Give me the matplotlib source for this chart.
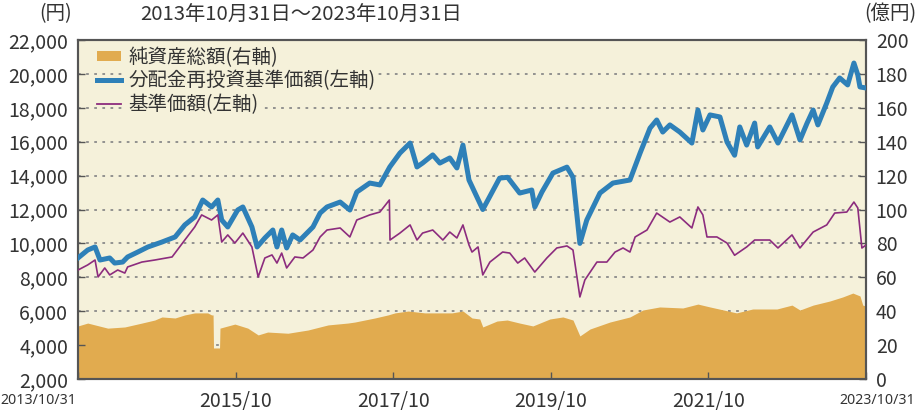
import matplotlib
matplotlib.use('Agg')
import matplotlib.pyplot as plt
import matplotlib.transforms as mtransforms
from matplotlib.patches import Patch
from matplotlib.lines import Line2D
from matplotlib.ticker import FuncFormatter
import pandas as pd

FONTS = ['Noto Sans CJK JP', 'DejaVu Sans']
plt.rcParams['font.family'] = FONTS

# ---------------- data ----------------
reinvest_dates = ['2013-10-31','2013-12-15','2014-01-18','2014-02-10','2014-03-27','2014-04-19','2014-05-26','2014-06-18','2014-08-04','2014-09-20',
    '2014-11-24','2015-01-24','2015-03-10','2015-04-25','2015-06-01','2015-07-12','2015-08-10','2015-08-28','2015-09-25','2015-11-10',
    '2015-12-04','2016-01-15','2016-02-08','2016-03-15','2016-04-21','2016-05-10','2016-06-01','2016-06-24','2016-07-22','2016-08-25',
    '2016-10-24','2016-11-26','2016-12-28','2017-02-27','2017-04-13','2017-05-15','2017-07-14','2017-08-30','2017-10-15','2017-12-01',
    '2018-01-17','2018-02-18','2018-03-16','2018-05-02','2018-06-04','2018-07-20','2018-08-22','2018-09-19','2018-10-17','2018-12-20',
    '2019-03-08','2019-04-14','2019-06-09','2019-08-04','2019-08-18','2019-09-20','2019-11-10','2020-01-14','2020-02-11','2020-03-14',
    '2020-04-15','2020-06-15','2020-08-14','2020-11-01','2020-12-18','2021-02-02','2021-03-05','2021-04-02','2021-05-05','2021-06-20',
    '2021-08-15','2021-09-12','2021-10-05','2021-11-07','2021-12-23','2022-01-25','2022-03-01','2022-03-25','2022-04-26','2022-06-02',
    '2022-06-16','2022-08-11','2022-09-18','2022-11-22','2022-12-29','2023-01-31','2023-02-28','2023-03-22','2023-05-02','2023-05-30',
    '2023-07-01','2023-08-07','2023-09-05','2023-09-23','2023-10-03','2023-10-31']
reinvest_nav = [9140, 9610, 9790, 9020, 9140, 8840, 8900, 9200, 9490, 9790,
    10080, 10380, 11090, 11560, 12560, 12150, 12560, 11380, 10970, 11970,
    12150, 10970, 9790, 10320, 10790, 9790, 10790, 9730, 10500, 10200,
    10970, 11790, 12150, 12440, 11970, 13030, 13560, 13450, 14510, 15330,
    15920, 14510, 14740, 15220, 14740, 15040, 14450, 15800, 13740, 12000,
    13850, 13900, 12970, 13150, 12150, 13030, 14150, 14500, 13900, 10000,
    11380, 12970, 13560, 13740, 15330, 16800, 17280, 16570, 16990, 16570,
    15920, 17870, 16690, 17580, 17460, 15980, 15200, 16870, 15800, 17100,
    15690, 16870, 15920, 17580, 16100, 17100, 17870, 16990, 18280, 19230,
    19760, 19350, 20640, 19940, 19230, 19170]

nav_dates = ['2013-10-31','2013-12-15','2014-01-18','2014-02-01','2014-03-04','2014-03-27','2014-05-03','2014-06-05','2014-06-18','2014-08-23',
    '2014-10-22','2015-01-10','2015-03-10','2015-04-25','2015-05-27','2015-07-12','2015-08-10','2015-08-28','2015-09-25','2015-10-28',
    '2015-12-04','2016-01-15','2016-02-13','2016-03-15','2016-04-17','2016-05-10','2016-06-01','2016-06-24','2016-08-01','2016-09-08',
    '2016-10-24','2016-11-26','2016-12-28','2017-02-27','2017-04-13','2017-05-15','2017-07-14','2017-08-30','2017-10-13','2017-10-16',
    '2017-12-01','2018-01-17','2018-02-18','2018-03-16','2018-05-02','2018-06-18','2018-07-20','2018-08-22','2018-09-19','2018-10-17',
    '2018-10-31','2018-11-28','2018-12-20','2019-01-22','2019-03-22','2019-04-24','2019-05-31','2019-07-02','2019-08-18','2019-10-13',
    '2019-11-28','2020-01-14','2020-02-11','2020-03-14','2020-04-06','2020-06-01','2020-07-17','2020-08-24','2020-09-30','2020-11-01',
    '2020-11-25','2021-01-19','2021-03-05','2021-05-05','2021-06-20','2021-08-15','2021-09-12','2021-10-05','2021-10-24','2021-12-09',
    '2022-01-25','2022-03-01','2022-04-26','2022-06-02','2022-08-11','2022-09-18','2022-11-22','2022-12-29','2023-02-28','2023-05-02',
    '2023-06-08','2023-08-03','2023-09-05','2023-09-23','2023-10-12','2023-10-31']
nav = [8430, 8730, 9020, 8020, 8550, 8140, 8430, 8250, 8610, 8900,
    9020, 9200, 10200, 10970, 11680, 11380, 11680, 10080, 10500, 10020,
    10610, 9790, 8020, 9140, 9320, 8840, 9430, 8550, 9200, 9140,
    9610, 10380, 10790, 10910, 10380, 11380, 11680, 11850, 12560, 10200,
    10610, 11090, 10200, 10610, 10790, 10200, 10670, 10320, 11090, 9910,
    9490, 9790, 8140, 8900, 9490, 9430, 8840, 9140, 8310, 9140,
    9730, 9850, 9610, 6840, 7840, 8900, 8900, 9490, 9730, 9490,
    10380, 10790, 11790, 11260, 11560, 10910, 12150, 11680, 10380, 10380,
    10020, 9300, 9790, 10200, 10200, 9730, 10500, 9730, 10670, 11090,
    11790, 11850, 12440, 12090, 9730, 9900]

asset_dates = ['2013-10-31','2013-12-15','2014-03-18','2014-06-05','2014-08-23','2014-10-22','2014-11-24','2015-01-24','2015-03-10','2015-04-25',
    '2015-06-24','2015-07-12','2015-07-19','2015-07-21','2015-08-18','2015-08-20','2015-10-28','2015-12-27','2016-02-13','2016-03-28',
    '2016-06-30','2016-10-01','2017-01-02','2017-04-03','2017-05-06','2017-08-07','2017-10-07','2017-11-08','2018-01-08','2018-03-26',
    '2018-05-11','2018-07-30','2018-09-19','2018-10-31','2018-12-06','2018-12-20','2019-02-24','2019-04-12','2019-06-09','2019-08-09',
    '2019-10-27','2019-12-26','2020-02-11','2020-03-14','2020-04-30','2020-07-31','2020-11-01','2020-12-31','2021-03-19','2021-07-04',
    '2021-09-12','2021-11-07','2022-03-10','2022-05-24','2022-09-13','2022-11-22','2022-12-29','2023-02-28','2023-05-16','2023-07-15',
    '2023-08-31','2023-10-03','2023-10-16','2023-10-31']
net_assets = [31.3, 33.0, 30.0, 30.7, 33.0, 34.8, 36.6, 36.0, 37.8, 39.0,
    39.0, 37.8, 37.8, 18.3, 18.3, 30.0, 32.4, 30.0, 26.0, 27.7,
    27.0, 28.9, 31.9, 33.0, 33.6, 36.0, 37.8, 39.0, 40.1, 39.0,
    39.0, 39.0, 40.1, 36.0, 35.4, 30.7, 34.2, 34.8, 33.0, 31.3,
    35.4, 36.6, 34.8, 25.4, 29.5, 33.6, 36.6, 40.7, 42.5, 41.9,
    44.2, 42.5, 39.0, 41.3, 41.3, 43.6, 40.7, 43.6, 46.0, 48.4,
    50.7, 49.0, 43.6, 43.0]

x_tick_dates = ['2013-10-31','2015-10-31','2017-10-31','2019-10-31','2021-10-31','2023-10-31']
x_tick_labels = ['2013/10/31','2015/10','2017/10','2019/10','2021/10','2023/10/31']
left_ticks = list(range(2000, 22001, 2000))
right_ticks = list(range(0, 201, 20))
legend_labels = ['純資産総額(右軸)', '分配金再投資基準価額(左軸)', '基準価額(左軸)']

# ---------------- style ----------------
BG = '#F5F1DA'
AREA = '#E1AB4F'
BLUE = '#2E80B8'
PURPLE = '#8C2C7E'
SPINE = '#555555'
TXT = '#333333'
FS = 14

fig = plt.figure(figsize=(9.16, 4.12), dpi=100)
ax = fig.add_axes([78/916, 1-379/412, 788/916, 339/412])
ax2 = ax.twinx()
ax.set_zorder(ax2.get_zorder() + 1)
ax.patch.set_visible(False)
ax2.patch.set_visible(True)
ax2.patch.set_facecolor(BG)

ad = pd.to_datetime(asset_dates)
ax2.fill_between(ad, 0, net_assets, color=AREA, linewidth=0, zorder=2)
ax2.set_ylim(0, 200)
ax2.set_yticks(right_ticks)
ax2.set_axisbelow(True)
ax2.yaxis.grid(True, linestyle=(0, (1.5, 3.0)), color='#8a8a8a', linewidth=1.3)

ax.plot(pd.to_datetime(reinvest_dates), reinvest_nav, color=BLUE, lw=3.6, solid_joinstyle='round', zorder=3)
ax.plot(pd.to_datetime(nav_dates), nav, color=PURPLE, lw=1.2, zorder=4)
ax.set_ylim(2000, 22000)
ax.set_yticks(left_ticks)
ax.yaxis.set_major_formatter(FuncFormatter(lambda v, p: f'{int(v):,}'))
xt = pd.to_datetime(x_tick_dates)
ax.set_xlim(xt[0], xt[-1])
# the two end labels are drawn separately (narrower, kept inside the figure)
ax.set_xticks(xt)
ax.set_xticklabels([''] + x_tick_labels[1:-1] + [''])

for a in (ax, ax2):
    for s in a.spines.values():
        s.set_color(SPINE)
        s.set_linewidth(1.5)
ax.tick_params(axis='y', direction='in', length=5, width=1, color=SPINE, labelsize=FS, labelcolor=TXT, pad=7)
ax.tick_params(axis='x', direction='in', length=5, width=1, color=SPINE, labelsize=FS, labelcolor=TXT, pad=9)
ax2.tick_params(axis='y', direction='in', length=5, width=1, color=SPINE, labelsize=FS, labelcolor=TXT, pad=7)

xtrans = ax.get_xaxis_transform()
for d, lab, dx in ((xt[0], x_tick_labels[0], -2), (xt[-1], x_tick_labels[-1], 49)):
    t = xtrans + mtransforms.ScaledTranslation(dx/100, -14/100, fig.dpi_scale_trans)
    ax.text(d, 0, lab, transform=t, ha='right', va='top', fontsize=10.2,
            family='Noto Sans', color=TXT, clip_on=False)

handles = [Patch(facecolor=AREA, edgecolor='none'),
           Line2D([], [], color=BLUE, lw=3.6),
           Line2D([], [], color=PURPLE, lw=1.3)]
leg = ax.legend(handles, legend_labels, loc='upper left', bbox_to_anchor=(0.022, 0.985),
                frameon=False, fontsize=FS, handlelength=1.2, handleheight=0.45,
                handletextpad=0.4, labelspacing=0.12, borderaxespad=0, borderpad=0.1)
for t in leg.get_texts():
    t.set_color(TXT)
    t.set_bbox(dict(facecolor=BG, edgecolor='none', pad=1.5))

fig.text(56/916, 1-14/412, '(円)', ha='center', va='center', fontsize=FS, color=TXT)
fig.text(140/916, 1-14/412, '2013年10月31日～2023年10月31日', ha='left', va='center', fontsize=14.6, color=TXT)
fig.text(890/916, 1-14/412, '(億円)', ha='center', va='center', fontsize=FS, color=TXT)

fig.savefig('out.png', dpi=100, facecolor='white')
